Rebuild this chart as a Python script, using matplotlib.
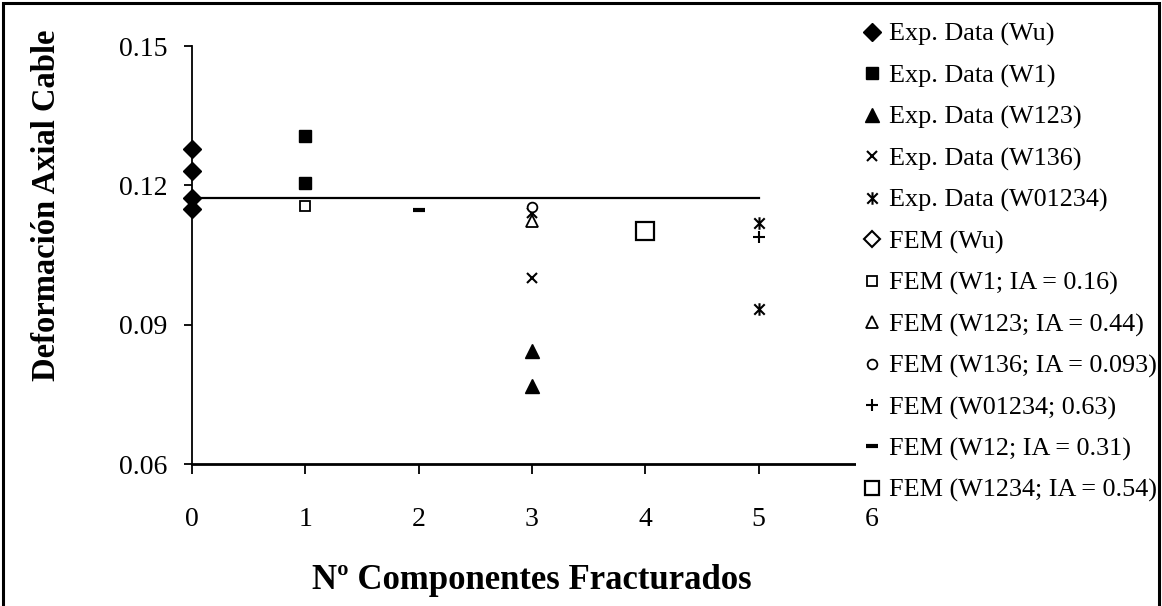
import numpy as np
import matplotlib.pyplot as plt
from matplotlib.path import Path
from matplotlib.patches import Rectangle

plt.rcParams['font.family'] = ['Liberation Serif', 'DejaVu Serif']

# measured axial strain vs number of fractured components
x_wu = [0, 0, 0, 0]
y_wu = [0.1278, 0.1230, 0.1172, 0.1150]
x_w1 = [1, 1]
y_w1 = [0.1306, 0.1206]
x_w123 = [3, 3]
y_w123 = [0.0843, 0.0768]
x_w136 = [3, 3]
y_w136 = [0.1141, 0.1000]
x_w01234 = [5, 5]
y_w01234 = [0.1118, 0.0933]

# FEM results
x_fem_wu = [0, 5]
y_fem_wu = [0.1172, 0.1172]
x_fem_w1 = [1]
y_fem_w1 = [0.1156]
x_fem_w123 = [3]
y_fem_w123 = [0.1123]
x_fem_w136 = [3]
y_fem_w136 = [0.1153]
x_fem_w01234 = [5]
y_fem_w01234 = [0.1088]
x_fem_w12 = [2]
y_fem_w12 = [0.1146]
x_fem_w1234 = [4]
y_fem_w1234 = [0.1102]

x_ticks = [0, 1, 2, 3, 4, 5, 6]
y_ticks = [0.06, 0.09, 0.12, 0.15]

# excel style star: x with a vertical bar
star = Path([(-1, -1), (1, 1), (-1, 1), (1, -1), (0, -1.2), (0, 1.2)],
            [Path.MOVETO, Path.LINETO, Path.MOVETO, Path.LINETO, Path.MOVETO, Path.LINETO])

fig = plt.figure(figsize=(11.62, 6.06), dpi=100)
ax = fig.add_axes([192 / 1162, 1 - 464 / 606, 680 / 1162, 418 / 606])

k = dict(ls='none', color='k')
ax.plot(x_fem_wu, y_fem_wu, color='k', lw=1.6, zorder=2)
ax.plot(x_wu, y_wu, marker='D', ms=9, label='Exp. Data (Wu)', clip_on=False, **k)
ax.plot(x_w1, y_w1, marker='s', ms=8, label='Exp. Data (W1)', **k)
ax.plot(x_w123, y_w123, marker='^', ms=10, label='Exp. Data (W123)', **k)
ax.plot(x_w136, y_w136, marker='x', ms=7, mew=1.5, label='Exp. Data (W136)', **k)
ax.plot(x_w01234, y_w01234, marker=star, ms=9, mew=1.5, label='Exp. Data (W01234)', **k)
ax.plot([], [], marker='D', ms=8, mfc='white', mew=1.5, label='FEM (Wu)', **k)
ax.plot(x_fem_w1, y_fem_w1, marker='s', ms=7, mfc='white', mew=1.3, label='FEM (W1; IA = 0.16)', **k)
ax.plot(x_fem_w123, y_fem_w123, marker='^', ms=9, mfc='white', mew=1.3, label='FEM (W123; IA = 0.44)', **k)
ax.plot(x_fem_w136, y_fem_w136, marker='o', ms=7, mfc='white', mew=1.3, label='FEM (W136; IA = 0.093)', **k)
ax.plot(x_fem_w01234, y_fem_w01234, marker='+', ms=9, mew=1.5, label='FEM (W01234; 0.63)', **k)
ax.plot(x_fem_w12, y_fem_w12, marker='_', ms=8, mew=3, label='FEM (W12; IA = 0.31)', **k)
ax.plot(x_fem_w1234, y_fem_w1234, marker='s', ms=13, mfc='white', mew=1.6, label='FEM (W1234; IA = 0.54)', **k)

ax.set_xlim(0, 6)
ax.set_ylim(0.06, 0.15)
ax.set_xticks(x_ticks)
ax.set_yticks(y_ticks)
ax.spines['top'].set_visible(False)
ax.spines['right'].set_visible(False)
ax.spines['left'].set_linewidth(1.3)
ax.spines['bottom'].set_linewidth(2)
ax.tick_params(axis='both', direction='out', labelsize=20, width=1.3)
ax.tick_params(axis='x', length=7, pad=24)
ax.tick_params(axis='y', length=6, pad=12)
ax.set_xlabel('Nº Componentes Fracturados', fontsize=25, fontweight='bold', labelpad=23)
ax.set_ylabel('Deformación Axial Cable', fontsize=23.5, fontweight='bold')
ax.yaxis.set_label_coords((62 - 192) / 680, (464 - 205) / 418)

leg = fig.legend(loc='upper left', bbox_to_anchor=(856 / 1162, 1 - 17.5 / 606),
                 fontsize=18.8, frameon=True, facecolor='white', edgecolor='none',
                 framealpha=1, fancybox=False, handlelength=0.8, handletextpad=0.25,
                 labelspacing=0.68, borderpad=0.2, borderaxespad=0)
leg.get_frame().set_linewidth(0)
for h in leg.legend_handles:
    if h.get_marker() == 's' and h.get_markersize() > 10:
        h.set_markersize(10)

# frame around the whole chart (bottom edge falls outside)
fig.patches.append(Rectangle((0.003, -0.05), 0.994, 1.045, transform=fig.transFigure,
                             fill=False, lw=2.2, ec='k', zorder=10))

fig.savefig('out.png', dpi=100)
